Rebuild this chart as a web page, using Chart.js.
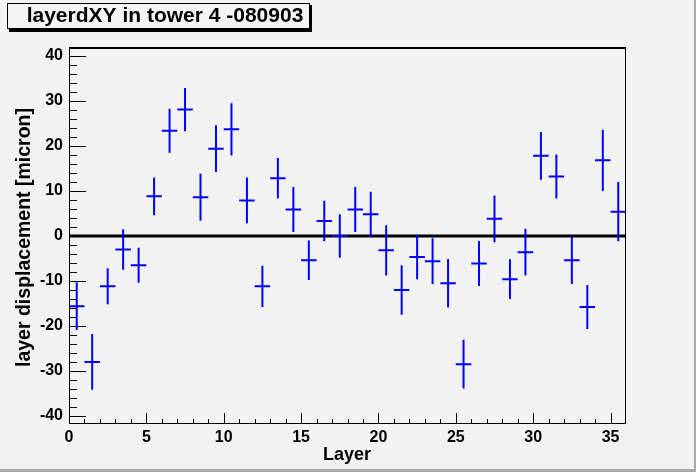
<!DOCTYPE html>
<html>
<head>
<meta charset="utf-8">
<script src="https://cdn.jsdelivr.net/npm/chart.js@4/dist/chart.umd.min.js"></script>
<style>
html,body{margin:0;padding:0;background:#f2f2f2;}
#wrap{position:relative;width:696px;height:472px;}
canvas{display:block;}
</style>
</head>
<body>
<div id="wrap"><canvas id="c" width="696" height="472"></canvas></div>
<script>
// ---- data ----
const layers = [0,1,2,3,4,5,6,7,8,9,10,11,12,13,14,15,16,17,18,19,20,21,22,23,24,25,26,27,28,29,30,31,32,33,34,35];
const displacement = [-15.6,-28.0,-11.2,-3.0,-6.5,8.8,23.4,28.1,8.6,19.4,23.7,7.9,-11.2,12.8,5.9,-5.4,3.3,0.0,5.9,4.8,-3.2,-12.0,-4.7,-5.6,-10.5,-28.5,-6.1,3.8,-9.6,-3.6,17.8,13.2,-5.4,-15.8,16.8,5.4];
const displacementErr = [5.3,6.2,4.0,4.5,3.9,4.2,4.9,4.8,5.2,5.2,5.8,5.1,4.6,4.5,5.0,4.4,4.5,4.85,5.0,5.0,5.6,5.5,4.95,5.1,5.4,5.4,5.0,5.2,4.4,5.2,5.3,4.9,5.3,4.9,6.8,6.6];
const xTickLabels = [0,5,10,15,20,25,30,35];
const yTickLabels = [-40,-30,-20,-10,0,10,20,30,40];
const xMinorTicks = [1,2,3,4,6,7,8,9,11,12,13,14,16,17,18,19,21,22,23,24,26,27,28,29,31,32,33,34];
const yMinorTicks = [-38,-36,-34,-32,-28,-26,-24,-22,-18,-16,-14,-12,-8,-6,-4,-2,2,4,6,8,12,14,16,18,22,24,26,28,32,34,36,38];
const titleText = "layerdXY in tower 4 -080903";
const xTitle = "Layer";
const yTitle = "layer displacement [micron]";

const points = layers.map((l, i) => ({x: l + 0.5, y: displacement[i]}));

const rootPlugin = {
  id: 'rootStyle',
  beforeDraw(chart) {
    const ctx = chart.ctx;
    ctx.save();
    ctx.fillStyle = '#f2f2f2';
    ctx.fillRect(0, 0, chart.width, chart.height);
    ctx.fillStyle = '#a9a9a9';
    ctx.fillRect(694, 0, 2, 472);
    ctx.fillRect(0, 469, 696, 3);
    ctx.restore();
  },
  afterDatasetsDraw(chart) {
    const ctx = chart.ctx;
    const xs = chart.scales.x, ys = chart.scales.y;
    const a = chart.chartArea;
    ctx.save();
    // zero line
    ctx.strokeStyle = '#000';
    ctx.lineWidth = 3;
    ctx.beginPath();
    const y0 = ys.getPixelForValue(0);
    ctx.moveTo(a.left, y0); ctx.lineTo(a.right, y0);
    ctx.stroke();
    // error crosses
    ctx.strokeStyle = '#0000ff';
    ctx.lineWidth = 2;
    points.forEach((p, i) => {
      const px = xs.getPixelForValue(p.x);
      const py = ys.getPixelForValue(p.y);
      const xl = xs.getPixelForValue(p.x - 0.5);
      const xr = xs.getPixelForValue(p.x + 0.5);
      const yt = ys.getPixelForValue(p.y + displacementErr[i]);
      const yb = ys.getPixelForValue(p.y - displacementErr[i]);
      ctx.beginPath();
      ctx.moveTo(xl, py); ctx.lineTo(xr, py);
      ctx.moveTo(px, yt); ctx.lineTo(px, yb);
      ctx.stroke();
    });
    // frame
    ctx.strokeStyle = '#000';
    ctx.lineWidth = 1;
    ctx.strokeRect(Math.round(a.left) + 0.5, Math.round(a.top) + 0.5, Math.round(a.right - a.left) - 1, Math.round(a.bottom - a.top) - 1);
    ctx.lineWidth = 2;
    ctx.beginPath();
    ctx.moveTo(a.left, Math.round(a.top) + 1); ctx.lineTo(a.right, Math.round(a.top) + 1);
    ctx.stroke();
    // ticks inward
    ctx.lineWidth = 1;
    ctx.beginPath();
    yTickLabels.forEach(v => { const y = Math.round(ys.getPixelForValue(v)) + 0.5; ctx.moveTo(a.left, y); ctx.lineTo(a.left + 17, y); });
    yMinorTicks.forEach(v => { const y = Math.round(ys.getPixelForValue(v)) + 0.5; ctx.moveTo(a.left, y); ctx.lineTo(a.left + 8, y); });
    xTickLabels.forEach(v => { const x = Math.round(xs.getPixelForValue(v)) + 0.5; ctx.moveTo(x, a.bottom); ctx.lineTo(x, a.bottom - 11); });
    xMinorTicks.forEach(v => { const x = Math.round(xs.getPixelForValue(v)) + 0.5; ctx.moveTo(x, a.bottom); ctx.lineTo(x, a.bottom - 5); });
    ctx.stroke();
    // title box
    ctx.fillStyle = '#000';
    ctx.fillRect(9, 5, 303, 27);
    ctx.fillStyle = '#f4f4f4';
    ctx.fillRect(7, 3, 303, 26);
    ctx.strokeStyle = '#000';
    ctx.lineWidth = 1;
    ctx.strokeRect(7.5, 3.5, 302, 25);
    ctx.fillStyle = '#000';
    ctx.font = 'bold 21px "Liberation Sans", Arial, sans-serif';
    ctx.textBaseline = 'alphabetic';
    ctx.textAlign = 'center';
    ctx.fillText(titleText, 165, 22);
    // axis titles
    ctx.font = 'bold 18px "Liberation Sans", Arial, sans-serif';
    ctx.fillText(xTitle, 347, 460);
    ctx.font = 'bold 19.5px "Liberation Sans", Arial, sans-serif';
    ctx.translate(30, 237.5);
    ctx.rotate(-Math.PI / 2);
    ctx.fillText(yTitle, 0, 0);
    ctx.restore();
  }
};

new Chart(document.getElementById('c'), {
  type: 'scatter',
  data: {
    datasets: [{
      data: points,
      pointRadius: 0,
      showLine: false,
      borderColor: '#0000ff',
      backgroundColor: '#0000ff'
    }]
  },
  options: {
    responsive: false,
    animation: false,
    devicePixelRatio: 1,
    layout: { padding: { top: 47, right: 70, left: 0, bottom: 0 } },
    plugins: { legend: { display: false }, tooltip: { enabled: false }, title: { display: false } },
    scales: {
      x: {
        type: 'linear', min: 0, max: 36,
        grid: { display: false, drawTicks: false },
        border: { display: false },
        afterFit(s) { s.height = 48; },
        afterBuildTicks(s) { s.ticks = xTickLabels.map(v => ({value: v})); },
        ticks: { padding: 4, color: '#000', maxRotation: 0, autoSkip: false,
          font: { family: '"Liberation Sans", Arial, sans-serif', size: 16, weight: 'bold' } }
      },
      y: {
        type: 'linear', min: -41.8, max: 42,
        grid: { display: false, drawTicks: false },
        border: { display: false },
        afterFit(s) { s.width = 69; },
        afterBuildTicks(s) { s.ticks = yTickLabels.map(v => ({value: v})); },
        ticks: { padding: 6, color: '#000', autoSkip: false,
          font: { family: '"Liberation Sans", Arial, sans-serif', size: 16, weight: 'bold' } }
      }
    }
  },
  plugins: [rootPlugin]
});
</script>
</body>
</html>
